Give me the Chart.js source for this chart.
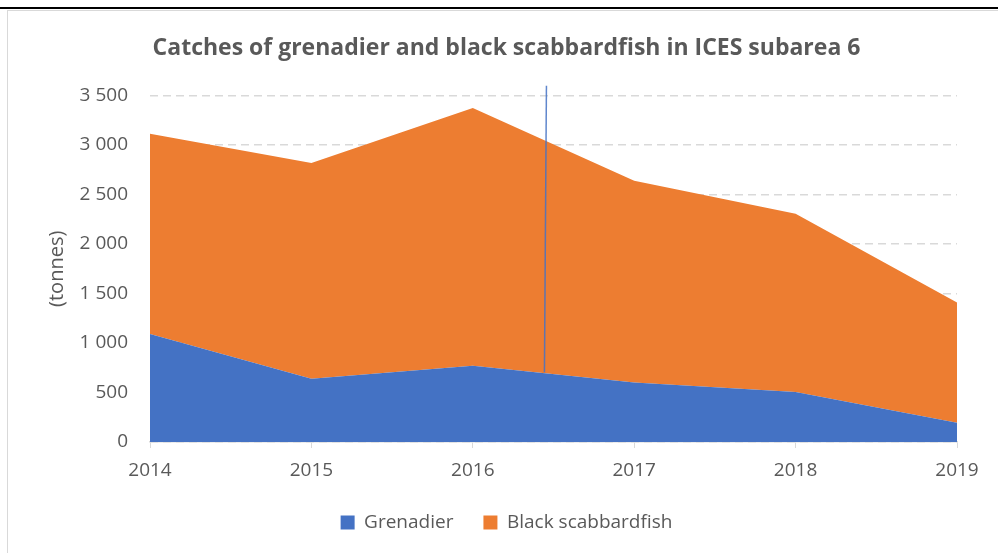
<!DOCTYPE html>
<html>
<head>
<meta charset="utf-8">
<title>Catches of grenadier and black scabbardfish</title>
<script src="https://cdn.jsdelivr.net/npm/chart.js@4/dist/chart.umd.min.js"></script>
<style>
    html, body {
        margin: 0;
        padding: 0;
        background: #ffffff;
    }
    .page {
        position: relative;
        width: 998px;
        height: 553px;
        overflow: hidden;
    }
    .topRule {
        position: absolute;
        left: 0;
        top: 7px;
        width: 998px;
        height: 2px;
        background: #000000;
    }
    .frame {
        position: absolute;
        left: 7px;
        top: 10px;
        width: 1100px;
        height: 600px;
        border: 1px solid #d9d9d9;
    }
    .chartBox {
        position: absolute;
        left: 0;
        top: 0;
        width: 998px;
        height: 553px;
    }
</style>
</head>
<body>
<div class="page">
    <div class="topRule"></div>
    <div class="frame"></div>
    <div class="chartBox"><canvas id="catchChart"></canvas></div>
</div>

<script>
// ---------- Data ----------

const years = ["2014", "2015", "2016", "2017", "2018", "2019"];

const grenadier = [1090, 640, 770, 600, 505, 195];
const blackScabbardfish = [2025, 2180, 2605, 2040, 1800, 1215];

const yTicks = [0, 500, 1000, 1500, 2000, 2500, 3000, 3500];

// thin blue marker line that crosses the areas between 2016 and 2017
const markerX = 2.45;
const markerTop = 3600;
const markerBottom = 705;

// ---------- Styles ----------

const textColor = "#595959";
const gridColor = "#d9d9d9";
const fontFamily = "'Open Sans', 'Liberation Sans', sans-serif";

function spaced(v) {
    return String(v).replace(/\B(?=(\d{3})+(?!\d))/g, " ");
}

const markerPlugin = {
    id: "markerLine",
    afterDatasetsDraw(chart) {
        const x = chart.scales.x;
        const y = chart.scales.y;
        const c = chart.ctx;
        c.save();
        c.strokeStyle = "rgba(68,114,196,0.85)";
        c.lineWidth = 1.5;
        c.beginPath();
        c.moveTo(x.getPixelForValue(markerX) + 1, y.getPixelForValue(markerTop));
        c.lineTo(x.getPixelForValue(markerX) - 1, y.getPixelForValue(markerBottom));
        c.stroke();
        c.restore();
    }
};

// ---------- Chart ----------

new Chart(document.getElementById("catchChart"), {
    type: "line",
    data: {
        labels: years,
        datasets: [{
            label: "Grenadier",
            data: grenadier,
            backgroundColor: "#4472c4",
            borderColor: "#4472c4",
            borderWidth: 0,
            pointRadius: 0,
            fill: "origin"
        }, {
            label: "Black scabbardfish",
            data: blackScabbardfish,
            backgroundColor: "#ed7d31",
            borderColor: "#ed7d31",
            borderWidth: 0,
            pointRadius: 0,
            fill: "-1"
        }]
    },
    options: {
        responsive: true,
        maintainAspectRatio: false,
        animation: false,
        layout: {
            padding: { left: 56, right: 41, top: 0, bottom: 11 }
        },
        plugins: {
            title: {
                display: true,
                text: "Catches of grenadier and black scabbardfish in ICES subarea 6",
                color: textColor,
                font: { family: fontFamily, size: 23, weight: "bold" },
                padding: { top: 35, bottom: 33 }
            },
            legend: {
                position: "bottom",
                labels: {
                    color: textColor,
                    font: { family: fontFamily, size: 19 },
                    boxWidth: 14,
                    boxHeight: 14,
                    padding: 30
                }
            },
            tooltip: { enabled: false }
        },
        scales: {
            x: {
                offset: false,
                afterFit(scale) {
                    scale.height = 41;
                },
                grid: {
                    drawOnChartArea: false,
                    drawTicks: true,
                    tickLength: 6,
                    color: gridColor
                },
                border: { display: true, color: gridColor, width: 1.5 },
                ticks: {
                    color: textColor,
                    font: { family: fontFamily, size: 19 },
                    padding: 11,
                    maxRotation: 0
                }
            },
            y: {
                stacked: true,
                min: 0,
                max: 3500,
                afterBuildTicks(scale) {
                    scale.ticks = yTicks.map(v => ({ value: v }));
                },
                afterFit(scale) {
                    scale.width = 94;
                },
                grid: {
                    color: gridColor,
                    lineWidth: 1.5,
                    drawTicks: false
                },
                border: { display: false, dash: [8, 5] },
                ticks: {
                    color: textColor,
                    font: { family: fontFamily, size: 19 },
                    padding: 22,
                    callback: v => spaced(v)
                },
                title: {
                    display: true,
                    text: "(tonnes)",
                    color: textColor,
                    font: { family: fontFamily, size: 20 },
                    padding: { top: -11, bottom: 0 }
                }
            }
        }
    },
    plugins: [markerPlugin]
});
</script>
</body>
</html>
